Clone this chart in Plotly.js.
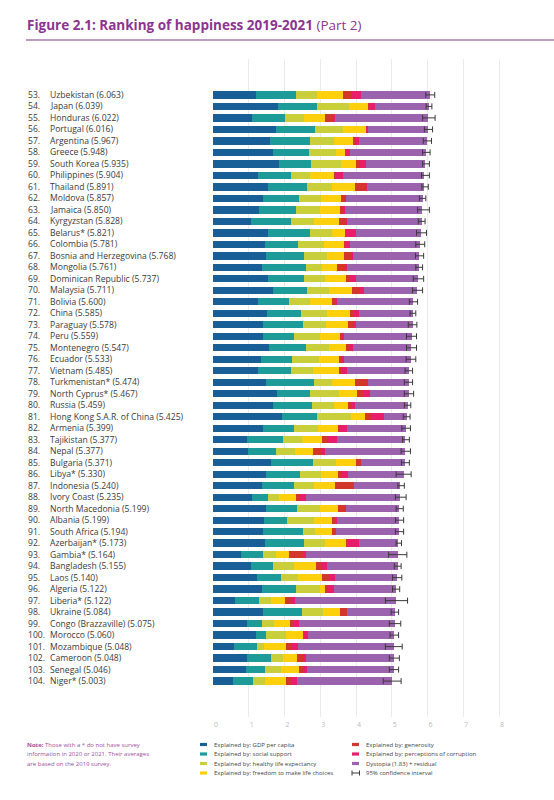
<!DOCTYPE html>
<html><head><meta charset="utf-8">
<script src="https://cdn.plot.ly/plotly-3.0.1.min.js"></script>
<style>html,body{margin:0;padding:0;background:#fff}#chart{width:554px;height:800px}</style>
</head><body><div id="chart"></div><script>
const ranks = [53,54,55,56,57,58,59,60,61,62,63,64,65,66,67,68,69,70,71,72,73,74,75,76,77,78,79,80,81,82,83,84,85,86,87,88,89,90,91,92,93,94,95,96,97,98,99,100,101,102,103,104];
const countries = ["Uzbekistan","Japan","Honduras","Portugal","Argentina","Greece","South Korea","Philippines","Thailand","Moldova","Jamaica","Kyrgyzstan","Belarus*","Colombia","Bosnia and Herzegovina","Mongolia","Dominican Republic","Malaysia","Bolivia","China","Paraguay","Peru","Montenegro","Ecuador","Vietnam","Turkmenistan*","North Cyprus*","Russia","Hong Kong S.A.R. of China","Armenia","Tajikistan","Nepal","Bulgaria","Libya*","Indonesia","Ivory Coast","North Macedonia","Albania","South Africa","Azerbaijan*","Gambia*","Bangladesh","Laos","Algeria","Liberia*","Ukraine","Congo (Brazzaville)","Morocco","Mozambique","Cameroon","Senegal","Niger*"];
const scores = [6.063,6.039,6.022,6.016,5.967,5.948,5.935,5.904,5.891,5.857,5.850,5.828,5.821,5.781,5.768,5.761,5.737,5.711,5.600,5.585,5.578,5.559,5.547,5.533,5.485,5.474,5.467,5.459,5.425,5.399,5.377,5.377,5.371,5.330,5.240,5.235,5.199,5.199,5.194,5.173,5.164,5.155,5.140,5.122,5.122,5.084,5.075,5.060,5.048,5.048,5.046,5.003];
const gdp = [1.21,1.83,1.10,1.76,1.59,1.68,1.84,1.26,1.53,1.41,1.28,1.05,1.55,1.44,1.47,1.38,1.53,1.68,1.25,1.51,1.40,1.39,1.56,1.35,1.25,1.47,1.80,1.68,1.94,1.41,0.96,0.97,1.62,1.47,1.38,1.09,1.49,1.43,1.41,1.45,0.78,1.05,1.24,1.36,0.61,1.41,0.95,1.19,0.58,0.96,0.91,0.56];
const social = [1.10,1.08,0.90,1.08,1.11,1.00,0.89,0.91,1.11,1.00,1.05,1.13,1.15,0.94,1.07,1.21,1.01,0.94,0.88,0.96,1.13,0.87,1.03,0.87,0.94,1.35,0.90,1.10,0.97,0.85,1.00,0.80,1.17,0.95,0.89,0.44,0.87,0.65,1.11,1.10,0.61,0.62,0.65,0.97,0.69,1.07,0.41,0.28,0.65,0.67,0.55,0.56];
const health = [0.60,0.88,0.54,0.79,0.67,0.77,0.84,0.53,0.69,0.60,0.65,0.64,0.64,0.73,0.66,0.47,0.58,0.61,0.57,0.71,0.64,0.73,0.65,0.73,0.60,0.50,0.82,0.59,0.95,0.67,0.53,0.51,0.64,0.61,0.54,0.31,0.64,0.73,0.34,0.57,0.38,0.59,0.48,0.65,0.32,0.59,0.34,0.56,0.19,0.33,0.43,0.33];
const freedom = [0.72,0.54,0.59,0.64,0.55,0.25,0.43,0.67,0.63,0.57,0.58,0.70,0.34,0.54,0.45,0.40,0.60,0.66,0.63,0.66,0.61,0.55,0.48,0.56,0.72,0.65,0.52,0.40,0.39,0.56,0.57,0.51,0.56,0.47,0.60,0.47,0.49,0.51,0.46,0.60,0.36,0.62,0.67,0.14,0.40,0.48,0.44,0.50,0.61,0.40,0.51,0.59];
const generosity = [0.26,0.04,0.22,0.01,0.05,0.03,0.07,0.06,0.33,0.10,0.07,0.19,0.03,0.05,0.24,0.24,0.07,0.21,0.11,0.09,0.14,0.07,0.09,0.08,0.10,0.33,0.14,0.09,0.16,0.05,0.13,0.24,0.14,0.09,0.50,0.13,0.20,0.13,0.11,0.02,0.40,0.13,0.19,0.09,0.15,0.19,0.12,0.02,0.17,0.16,0.15,0.15];
const corruption = [0.26,0.16,0.07,0.04,0.11,0.11,0.20,0.20,0.02,0.03,0.06,0.03,0.28,0.12,0.02,0.06,0.20,0.12,0.04,0.15,0.09,0.06,0.10,0.08,0.14,0.02,0.20,0.11,0.38,0.20,0.29,0.11,0.02,0.19,0.03,0.15,0.03,0.02,0.02,0.34,0.07,0.18,0.19,0.17,0.11,0.01,0.14,0.10,0.19,0.07,0.07,0.15];
const dystopia = [1.91,1.51,2.60,1.70,1.89,2.11,1.67,2.27,1.58,2.15,2.16,2.09,1.83,1.96,1.86,2.00,1.75,1.49,2.12,1.51,1.57,1.89,1.64,1.86,1.74,1.15,1.09,1.49,0.64,1.66,1.90,2.24,1.22,1.55,1.30,2.65,1.48,1.73,1.74,1.09,2.56,1.97,1.72,1.74,2.84,1.33,2.68,2.41,2.66,2.46,2.43,2.66];
const ciLow = [5.95,5.96,5.86,5.91,5.88,5.86,5.86,5.83,5.84,5.77,5.72,5.74,5.69,5.67,5.66,5.67,5.60,5.58,5.49,5.51,5.46,5.41,5.41,5.40,5.37,5.35,5.35,5.35,5.32,5.28,5.30,5.26,5.27,5.12,5.17,5.10,5.12,5.10,5.10,5.12,4.91,5.07,5.02,5.02,4.82,4.98,4.93,4.95,4.82,4.93,4.93,4.76];
const ciHigh = [6.20,6.12,6.21,6.14,6.11,6.07,6.05,6.05,6.02,5.95,6.05,5.93,5.97,5.92,5.89,5.86,5.89,5.86,5.72,5.67,5.70,5.69,5.69,5.67,5.58,5.58,5.61,5.53,5.51,5.52,5.49,5.52,5.49,5.54,5.35,5.40,5.32,5.33,5.33,5.27,5.42,5.26,5.28,5.22,5.44,5.19,5.25,5.19,5.29,5.21,5.19,5.26];
const xTicks = [0,1,2,3,4,5,6,7,8];

const seriesNames = ["Explained by: GDP per capita","Explained by: social support","Explained by: healthy life expectancy","Explained by: freedom to make life choices","Explained by: generosity","Explained by: perceptions of corruption","Dystopia (1.83) + residual"];
const seriesVals = [gdp, social, health, freedom, generosity, corruption, dystopia];
const colors = ["#175f96","#1d9b99","#c9cf3b","#fdd00e","#d3372b","#e91e6a","#9b63ae"];

const W = 554, H = 800;
const M = {l:213, r:37, t:59, b:83};
const pw = W - M.l - M.r, ph = H - M.t - M.b;
const px = x => (x - M.l) / pw;
const py = y => 1 - (y - M.t) / ph;

const traces = seriesVals.map((v, i) => ({
  type:'bar', orientation:'h', y: countries, x: v, name: seriesNames[i],
  marker:{color: colors[i], line:{width:0}}, hoverinfo:'skip'
}));
traces.push({
  type:'scatter', mode:'markers', y: countries, x: scores,
  marker:{size:1, opacity:0}, hoverinfo:'skip', name:'95% confidence interval',
  error_x:{type:'data', symmetric:false,
    array: ciHigh.map((h,i)=>h-scores[i]),
    arrayminus: scores.map((s,i)=>s-ciLow[i]),
    color:'#3a3a3a', thickness:1, width:3}
});

const font = "Open Sans, sans-serif";
const annotations = [];
countries.forEach((c, i) => {
  annotations.push({xref:'paper', yref:'y', x:px(26), y:c, text: ranks[i] + '.', showarrow:false,
    xanchor:'left', yanchor:'middle', font:{family:font, size:8.6, color:'#3a3a3a'}});
  annotations.push({xref:'paper', yref:'y', x:px(48), y:c, text: c + ' (' + scores[i].toFixed(3) + ')', showarrow:false,
    xanchor:'left', yanchor:'middle', font:{family:font, size:8.6, color:'#3a3a3a'}});
});
// title
annotations.push({xref:'paper', yref:'paper', x:px(25), y:py(25), xanchor:'left', yanchor:'middle', showarrow:false,
  text:'<b>Figure 2.1: Ranking of happiness 2019-2021</b> (Part 2)', font:{family:font, size:13.5, color:'#8c3590'}});
// note
const noteLines = ['<b>Note:</b> Those with a * do not have survey','information in 2020 or 2021. Their averages','are based on the 2019 survey.'];
noteLines.forEach((t, k) => annotations.push({xref:'paper', yref:'paper', x:px(25), y:py(744.7 + k*9.5), xanchor:'left', yanchor:'middle',
  showarrow:false, text:t, font:{family:font, size:6, color:'#a04fa0'}}));

const shapes = [];
shapes.push({type:'line', xref:'paper', yref:'paper', x0:px(26), x1:px(554), y0:py(40), y1:py(40), line:{color:'#a47aae', width:1.6}});
// legend
const legCols = [[0,1,2,3],[4,5,6,7]];
const legX = [200, 352];
legCols.forEach((col, ci) => col.forEach((idx, r) => {
  const yy = 744.5 + r*9.5;
  const x0 = legX[ci];
  if (idx < 7) {
    shapes.push({type:'rect', xref:'paper', yref:'paper', x0:px(x0), x1:px(x0+7), y0:py(yy-1.6), y1:py(yy+1.6), fillcolor:colors[idx], line:{width:0}});
  } else {
    shapes.push({type:'line', xref:'paper', yref:'paper', x0:px(x0), x1:px(x0+7.5), y0:py(yy), y1:py(yy), line:{color:'#3a3a3a', width:1}});
    shapes.push({type:'line', xref:'paper', yref:'paper', x0:px(x0), x1:px(x0), y0:py(yy-2.5), y1:py(yy+2.5), line:{color:'#3a3a3a', width:1}});
    shapes.push({type:'line', xref:'paper', yref:'paper', x0:px(x0+7.5), x1:px(x0+7.5), y0:py(yy-2.5), y1:py(yy+2.5), line:{color:'#3a3a3a', width:1}});
  }
  annotations.push({xref:'paper', yref:'paper', x:px(x0+11.5), y:py(yy), xanchor:'left', yanchor:'middle', showarrow:false,
    text: idx < 7 ? seriesNames[idx] : '95% confidence interval', font:{family:font, size:6, color:'#444'}});
}));

const layout = {
  width:W, height:H, margin:M, paper_bgcolor:'#fff', plot_bgcolor:'#fff',
  barmode:'stack', bargap:0.36, showlegend:false,
  font:{family:font},
  xaxis:{range:[0,8.5], tickvals:xTicks, ticktext:xTicks.map(String), showgrid:true, gridcolor:'#ebebeb', gridwidth:1,
    zeroline:false, showline:false, ticks:'', tickfont:{size:7, color:'#bdbdbd'}, ticklabelshift:3, ticklabelstandoff:2},
  yaxis:{type:'category', autorange:'reversed', showticklabels:false, showgrid:false, zeroline:false, ticks:''},
  annotations, shapes
};
Plotly.newPlot('chart', traces, layout, {staticPlot:true, displayModeBar:false});
</script></body></html>
